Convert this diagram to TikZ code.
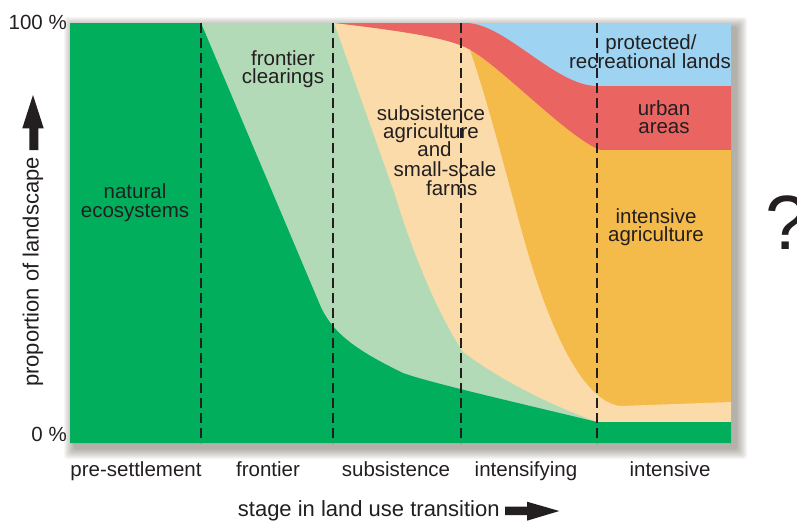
\documentclass[tikz,border=0pt]{standalone}
\usepackage{fontspec}
\setmainfont{Liberation Sans}
\definecolor{ink}{HTML}{231F20}
\definecolor{cgreen}{HTML}{00AE5B}
\definecolor{clgreen}{HTML}{B3DAB6}
\definecolor{ctan}{HTML}{FBDBA9}
\definecolor{corange}{HTML}{F4BB4B}
\definecolor{cred}{HTML}{EA6462}
\definecolor{cblue}{HTML}{9ED4F1}
\definecolor{shade}{HTML}{3A3320}
\begin{document}
\begin{tikzpicture}[x=1pt,y=-1pt,
  lbl/.style={font=\fontsize{20.5}{24}\selectfont, text=ink, inner sep=0pt, anchor=base},
  axlbl/.style={font=\fontsize{22}{26}\selectfont, text=ink, inner sep=0pt, anchor=base},
  divider/.style={draw=ink, line width=1.2pt, dash pattern=on 10pt off 5pt},
  shadowlayer/.style={fill=shade, opacity=0.045, rounded corners=3pt}]
\useasboundingbox (0,0) rectangle (797,522);

% soft shadow
\foreach \r in {0,1,...,10}
  \fill[shadowlayer] (74-\r,27-\r) rectangle (737+\r,449+\r);

% stacked areas
\fill[cblue] (333,23) rectangle (731,443);
\fill[cred] (333,23) -- (466,23) .. controls (505,23) and (555,86) .. (597,86)
  -- (731,86) -- (731,443) -- (333,443) -- cycle;
\fill[corange] (333,23) .. controls (400,31) and (450,38) .. (470,50)
  .. controls (500,66) and (568,138) .. (600,150)
  -- (731,150) -- (731,443) -- (333,443) -- cycle;
\fill[ctan] (333,23) .. controls (400,31) and (450,38) .. (470,50)
  .. controls (490,110) and (505,170) .. (520,225)
  .. controls (540,300) and (575,400) .. (620,406)
  -- (731,402) -- (731,443) -- (333,443) -- cycle;
\fill[clgreen] (201,23) -- (334,23) -- (395,195)
  .. controls (410,245) and (435,310) .. (463,352)
  .. controls (500,380) and (550,405) .. (597,422)
  -- (597,443) -- (201,443) -- cycle;
\fill[cgreen] (70,23) -- (201,23) -- (320,305)
  .. controls (333,335) and (360,352) .. (403,373)
  .. controls (430,383) and (540,408) .. (597,422)
  -- (731,422) -- (731,443) -- (70,443) -- cycle;

% stage dividers
\draw[divider] (201,23) -- (201,443);
\draw[divider] (333,23) -- (333,443);
\draw[divider] (461,23) -- (461,443);
\draw[divider] (597,23) -- (597,443);

% axis arrows
\fill[ink] (29.3,150) -- (29.3,128.3) -- (22.3,128.3) -- (33,95) -- (43.7,128.3)
  -- (38.3,128.3) -- (38.3,150) -- cycle;
\fill[ink] (505,506.7) -- (527,506.7) -- (527,501.7) -- (559.3,511) -- (527,520.7)
  -- (527,515) -- (505,515) -- cycle;

% axis labels
\node[lbl, anchor=base east] (p100) at (67,29.5) {100 \%};
\node[lbl, anchor=base east] (p0) at (67,441) {0 \%};
\node[axlbl, rotate=90] (ylab) at (38.5,272) {proportion of landscape};
\node[axlbl, anchor=base west] (xlab) at (237.7,516.7) {stage in land use transition};

% region labels
\node[lbl] (nat1) at (135,198.3) {natural};
\node[lbl] (nat2) at (135,217.5) {ecosystems};
\node[lbl] (fr1) at (283,65) {frontier};
\node[lbl] (fr2) at (283,83.5) {clearings};
\node[lbl] (sub1) at (431,120) {subsistence};
\node[lbl] (sub2) at (431,138.5) {agriculture};
\node[lbl] (sub3) at (434.5,156.7) {and};
\node[lbl] (sub4) at (445,176.7) {small-scale};
\node[lbl] (sub5) at (451.7,195) {farms};
\node[lbl] (pro1) at (651,49.5) {protected/};
\node[lbl] (pro2) at (650,68.3) {recreational lands};
\node[lbl] (urb1) at (664,115) {urban};
\node[lbl] (urb2) at (664,133.5) {areas};
\node[lbl] (int1) at (656,223.3) {intensive};
\node[lbl] (int2) at (656,241.7) {agriculture};

% stage labels
\node[lbl] (st1) at (136,476) {pre-settlement};
\node[lbl] (st2) at (268,476) {frontier};
\node[lbl] (st3) at (396,476) {subsistence};
\node[lbl] (st4) at (526,476) {intensifying};
\node[lbl] (st5) at (670,476.5) {intensive};

% question mark
\node[anchor=base west, inner sep=0pt, text=ink, font=\fontsize{77}{80}\selectfont] (q) at (765,249) {?};
\end{tikzpicture}
\end{document}
